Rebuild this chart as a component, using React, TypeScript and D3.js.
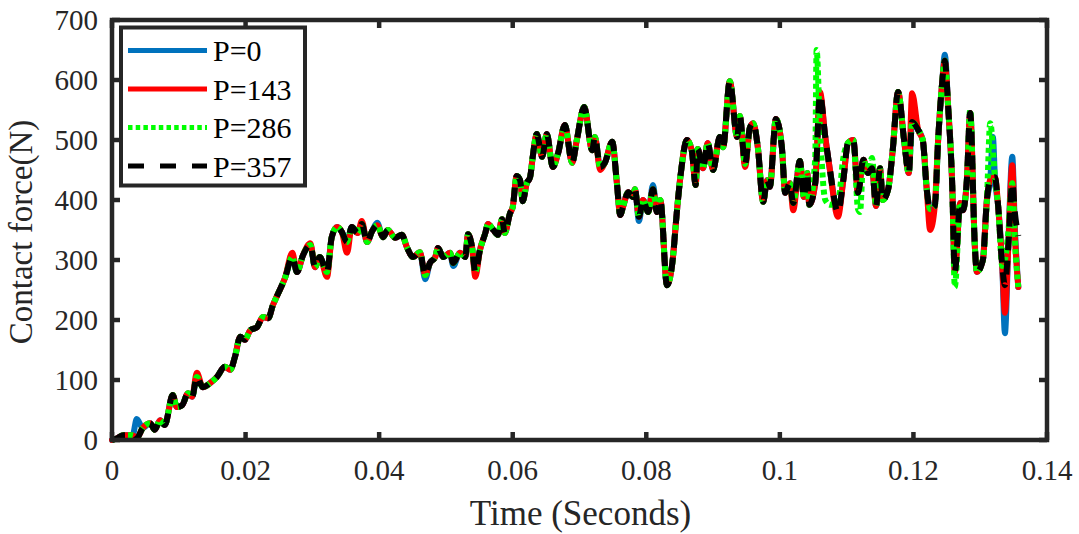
import * as d3 from 'd3';

// Time (s) / contact force (N) read off the P=357 trace; the other runs follow it
// and only differ where listed in their own arrays below.
const p357: [number, number][] = [
    [0.0000, 0], [0.0008, 3], [0.0017, 8], [0.0031, 8], [0.0037, 3], [0.0046, 20],
    [0.0057, 28], [0.0064, 17], [0.0072, 33], [0.0079, 25], [0.0091, 75], [0.0097, 55],
    [0.0105, 58], [0.0114, 78], [0.0120, 72], [0.0127, 105], [0.0136, 88], [0.0147, 95],
    [0.0157, 105], [0.0169, 122], [0.0177, 117], [0.0184, 138], [0.0192, 172], [0.0199, 167],
    [0.0207, 183], [0.0217, 188], [0.0226, 205], [0.0234, 203], [0.0241, 225], [0.0247, 240],
    [0.0259, 270], [0.0270, 305], [0.0277, 280], [0.0286, 308], [0.0297, 325], [0.0304, 288],
    [0.0311, 305], [0.0322, 280], [0.0329, 338], [0.0337, 355], [0.0344, 347], [0.0352, 330],
    [0.0359, 355], [0.0368, 345], [0.0374, 360], [0.0382, 330], [0.0389, 347], [0.0397, 358],
    [0.0406, 338], [0.0413, 350], [0.0424, 337], [0.0434, 342], [0.0442, 320], [0.0451, 305],
    [0.0461, 313], [0.0469, 275], [0.0476, 295], [0.0484, 305], [0.0488, 320], [0.0496, 305],
    [0.0506, 312], [0.0511, 295], [0.0521, 312], [0.0529, 305], [0.0533, 343], [0.0539, 322],
    [0.0544, 280], [0.0551, 317], [0.0559, 345], [0.0563, 360], [0.0571, 350], [0.0578, 342],
    [0.0584, 368], [0.0588, 345], [0.0596, 378], [0.0600, 388], [0.0606, 440], [0.0611, 433],
    [0.0615, 398], [0.0621, 428], [0.0626, 438], [0.0630, 472], [0.0636, 510], [0.0644, 472],
    [0.0651, 510], [0.0660, 455], [0.0668, 478], [0.0678, 525], [0.0689, 462], [0.0696, 500],
    [0.0707, 555], [0.0719, 483], [0.0723, 505], [0.0731, 455], [0.0738, 462], [0.0749, 497],
    [0.0756, 428], [0.0761, 375], [0.0765, 388], [0.0773, 413], [0.0780, 405], [0.0783, 418],
    [0.0789, 372], [0.0795, 400], [0.0803, 380], [0.0810, 418], [0.0816, 380], [0.0821, 400],
    [0.0831, 258], [0.0839, 295], [0.0846, 383], [0.0851, 438], [0.0861, 500], [0.0868, 483],
    [0.0874, 425], [0.0877, 485], [0.0885, 453], [0.0892, 495], [0.0900, 450], [0.0910, 505],
    [0.0915, 488], [0.0925, 598], [0.0936, 505], [0.0940, 540], [0.0948, 460], [0.0955, 520],
    [0.0960, 528], [0.0967, 488], [0.0975, 397], [0.0981, 433], [0.0985, 422], [0.0994, 535],
    [0.1003, 488], [0.1008, 412], [0.1015, 428], [0.1020, 395], [0.1030, 465], [0.1036, 405],
    [0.1041, 445], [0.1044, 392], [0.1053, 428], [0.1060, 575], [0.1068, 505], [0.1075, 450],
    [0.1087, 380], [0.1095, 433], [0.1102, 495], [0.1110, 500], [0.1117, 412], [0.1125, 467],
    [0.1132, 445], [0.1138, 453], [0.1144, 390], [0.1150, 453], [0.1154, 400], [0.1162, 417],
    [0.1169, 483], [0.1177, 580], [0.1186, 500], [0.1193, 445], [0.1198, 530], [0.1207, 517],
    [0.1214, 500], [0.1220, 417], [0.1225, 385], [0.1232, 390], [0.1237, 500], [0.1243, 595],
    [0.1247, 632], [0.1252, 555], [0.1258, 428], [0.1262, 280], [0.1270, 395], [0.1274, 383],
    [0.1280, 433], [0.1285, 545], [0.1292, 322], [0.1295, 280], [0.1304, 300], [0.1310, 400],
    [0.1315, 433], [0.1322, 438], [0.1327, 388], [0.1333, 290], [0.1337, 258], [0.1342, 322],
    [0.1348, 428], [0.1352, 378], [0.1357, 340],
];

const p0Diff: [number, number][] = [
    [0.0037, 35], [0.0397, 362], [0.0469, 268], [0.0511, 290], [0.0789, 365], [0.0810, 425],
    [0.1247, 642], [0.1319, 505], [0.1337, 178], [0.1348, 472], [0.1352, 350], [0.1357, 255],
];
const p143Diff: [number, number][] = [
    [0.0127, 112], [0.0270, 312], [0.0297, 328], [0.0322, 272], [0.0352, 312], [0.0374, 365],
    [0.0544, 272], [0.0731, 450], [0.0948, 455], [0.1020, 383], [0.1060, 580], [0.1087, 372],
    [0.1198, 578], [0.1225, 350], [0.1337, 212], [0.1348, 458], [0.1352, 340], [0.1357, 255],
];
const p286Diff: [number, number][] = [
    [0.1053, 470], [0.1055, 650], [0.1060, 520], [0.1068, 400], [0.1075, 392], [0.1087, 395],
    [0.1095, 470], [0.1117, 385], [0.1120, 380], [0.1138, 470], [0.1262, 255], [0.1285, 550],
    [0.1315, 528], [0.1337, 300], [0.1342, 345], [0.1352, 330], [0.1357, 255],
];

const xTicks = [0, 0.02, 0.04, 0.06, 0.08, 0.1, 0.12, 0.14];
const yTicks = [0, 100, 200, 300, 400, 500, 600, 700];
const names = ['P=0', 'P=143', 'P=286', 'P=357'];

function withDiff(base: [number, number][], diff: [number, number][]) {
    const m = new Map(base.map(([t, v]) => [t, v]));
    diff.forEach(([t, v]) => m.set(t, v));
    return Array.from(m.entries()).sort((a, b) => a[0] - b[0]);
}

const series = [
    { name: names[0], data: withDiff(p357, p0Diff), color: '#0072BD', dash: 'none', legendDash: 'none' },
    { name: names[1], data: withDiff(p357, p143Diff), color: '#FF0000', dash: 'none', legendDash: 'none' },
    { name: names[2], data: withDiff(p357, p286Diff), color: '#00FF00', dash: '5,3.5', legendDash: '4.5,3.2' },
    { name: names[3], data: p357, color: '#000000', dash: '14,10', legendDash: '16,16' },
];

export default function App() {
    const width = 1079;
    const height = 534;
    const margin = { top: 20, right: 32, bottom: 94, left: 112 };
    const innerW = width - margin.left - margin.right;
    const innerH = height - margin.top - margin.bottom;

    const x = d3.scaleLinear().domain([0, 0.14]).range([0, innerW]);
    const y = d3.scaleLinear().domain([0, 700]).range([innerH, 0]);

    const line = d3.line<[number, number]>()
        .x(d => x(d[0]))
        .y(d => y(d[1]))
        .curve(d3.curveMonotoneX);

    const axisColor = '#262626';
    const font = '"Liberation Serif", "Times New Roman", serif';
    const tickLen = 8;

    return (
        <svg width={width} height={height} style={{ position: 'absolute', left: 0, top: 0, background: '#fff' }}
            fontFamily={font}>
            <g transform={`translate(${margin.left},${margin.top})`}>
                {/* traces */}
                {series.map(s => (
                    <path key={s.name} d={line(s.data) || ''} fill="none" stroke={s.color}
                        strokeWidth={6} strokeLinejoin="round" strokeLinecap={s.dash === 'none' ? 'round' : 'butt'}
                        strokeDasharray={s.dash} />
                ))}

                {/* ticks, inward on all four sides */}
                {xTicks.map(t => (
                    <g key={'xt' + t}>
                        <line x1={x(t)} x2={x(t)} y1={innerH} y2={innerH - tickLen} stroke={axisColor} strokeWidth={4.5} />
                        <line x1={x(t)} x2={x(t)} y1={0} y2={tickLen} stroke={axisColor} strokeWidth={4.5} />
                        <text x={x(t)} y={innerH + 40} textAnchor="middle" fontSize={29} fill={axisColor}>
                            {d3.format('~g')(t)}
                        </text>
                    </g>
                ))}
                {yTicks.map(t => (
                    <g key={'yt' + t}>
                        <line x1={0} x2={tickLen} y1={y(t)} y2={y(t)} stroke={axisColor} strokeWidth={4.5} />
                        <line x1={innerW} x2={innerW - tickLen} y1={y(t)} y2={y(t)} stroke={axisColor} strokeWidth={4.5} />
                        <text x={-14} y={y(t)} dy="0.35em" textAnchor="end" fontSize={29} fill={axisColor}>
                            {t}
                        </text>
                    </g>
                ))}

                <rect x={0} y={0} width={innerW} height={innerH} fill="none" stroke={axisColor} strokeWidth={4.5} />

                {/* axis titles */}
                <text x={innerW / 2 + 1} y={innerH + 85} textAnchor="middle" fontSize={35} fill={axisColor}>
                    Time (Seconds)
                </text>
                <text transform={`translate(${-80},${innerH / 2 + 2}) rotate(-90)`} textAnchor="middle" fontSize={33}
                    fill={axisColor}>
                    Contact force(N)
                </text>

                {/* legend */}
                <g transform="translate(9,7.5)">
                    <rect x={0} y={0} width={184} height={158} fill="#fff" stroke={axisColor} strokeWidth={4} />
                    {series.map((s, i) => (
                        <g key={'lg' + s.name} transform={`translate(0,${23 + i * 38.5})`}>
                            <line x1={7} x2={86} y1={0} y2={0} stroke={s.color} strokeWidth={5}
                                strokeDasharray={s.legendDash} />
                            <text x={92} y={0} dy="0.35em" fontSize={30} fill="#000">{s.name}</text>
                        </g>
                    ))}
                </g>
            </g>
        </svg>
    );
}
